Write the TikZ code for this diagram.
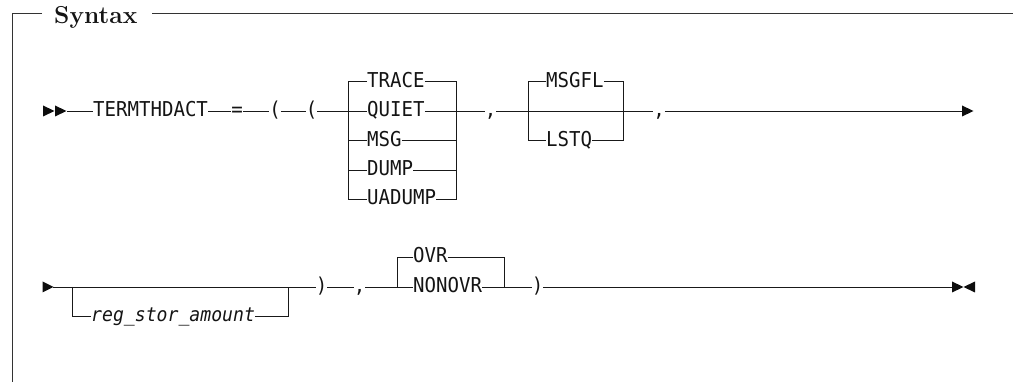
\documentclass[tikz,border=0pt]{standalone}
\usepackage{fontspec}
\newfontfamily\rrmono[FakeStretch=0.93]{DejaVu Sans Mono}
\begin{document}
\begin{tikzpicture}[x=1pt,y=-1pt,
  tok/.style={font=\rrmono\fontsize{20.5}{24}\selectfont, inner sep=0pt, anchor=base west, text=black!92},
  ctok/.style={tok, anchor=base},
  ln/.style={line width=0.85pt, draw=black!90},
  framel/.style={line width=0.9pt, draw=black!80},
  tip/.style={fill=black!95}]
\useasboundingbox (0,0) rectangle (1013,382);
% frame
\node[anchor=base west, inner sep=0pt, font=\fontsize{24.5}{29}\selectfont\bfseries, text=black!92] (syn) at (54,23.5) {Syntax};
\draw[framel] (42,13) -- (12.5,13) -- (12.5,382);
\draw[framel] (152,13) -- (1013,13);
% row coordinates
\coordinate (R1) at (0,111);
\coordinate (RT) at (0,81.5);
\coordinate (RM) at (0,140.5);
\coordinate (RD) at (0,170);
\coordinate (RU) at (0,199);
\coordinate (R2) at (0,287);
\coordinate (RO) at (0,257);
\coordinate (RR) at (0,316);
\coordinate (B1L) at (348,0);
\coordinate (B1R) at (456.5,0);
\coordinate (B2L) at (528,0);
\coordinate (B2R) at (623,0);
\coordinate (B3L) at (72,0);
\coordinate (B3R) at (288,0);
\coordinate (B4L) at (397,0);
\coordinate (B4R) at (504,0);
\coordinate (s1) at (67,111);
\coordinate (e1) at (962,111);
\coordinate (s2) at (53,287);
\coordinate (e2) at (952,287);
% row 1 tokens
\node[tok] (termth) at (93,117) {TERMTHDACT};
\node[ctok] (eq) at (237,117) {=};
\node[ctok] (lp1) at (275,117) {(};
\node[ctok] (lp2) at (311.5,117) {(};
\node[tok] (trace) at (367,87.5) {TRACE};
\node[tok] (quiet) at (367,117) {QUIET};
\node[tok] (msg) at (367,146.5) {MSG};
\node[tok] (dump) at (367,176) {DUMP};
\node[tok] (uadump) at (367,205) {UADUMP};
\node[ctok] (c1) at (490.5,117) {,};
\node[tok] (msgfl) at (546,87.5) {MSGFL};
\node[tok] (lstq) at (546,146.5) {LSTQ};
\node[ctok] (c2) at (659,117) {,};
% row 2 tokens
\node[tok, font=\rrmono\fontsize{19.5}{24}\selectfont\itshape] (reg) at (91,322) {reg\_stor\_amount};
\node[ctok] (rp1) at (321.5,293) {)};
\node[ctok] (c3) at (359.5,293) {,};
\node[tok] (ovr) at (413,263) {OVR};
\node[tok] (nonovr) at (413,293) {NONOVR};
\node[ctok] (rp2) at (537.5,293) {)};
% row 1 connectors
\fill[tip] (43,105.5) -- (54.5,111) -- (43,116.5) -- cycle;
\fill[tip] (55,105.5) -- (66.5,111) -- (55,116.5) -- cycle;
\draw[ln] (s1) -- (termth.west |- R1);
\draw[ln] (termth.east |- R1) -- (eq.west |- R1);
\draw[ln] (eq.east |- R1) -- (lp1.west |- R1);
\draw[ln] (lp1.east |- R1) -- (lp2.west |- R1);
\draw[ln] (lp2.east |- R1) -- (quiet.west |- R1);
\draw[ln] (trace.west |- RT) -| (B1L |- RU) -- (uadump.west |- RU);
\draw[ln] (B1L |- RM) -- (msg.west |- RM);
\draw[ln] (B1L |- RD) -- (dump.west |- RD);
\draw[ln] (trace.east |- RT) -| (B1R |- RU) -- (uadump.east |- RU);
\draw[ln] (msg.east |- RM) -- (B1R |- RM);
\draw[ln] (dump.east |- RD) -- (B1R |- RD);
\draw[ln] (quiet.east |- R1) -- (c1.west |- R1);
\draw[ln] (c1.east |- R1) -- (c2.west |- R1);
\draw[ln] (msgfl.west |- RT) -| (B2L |- RM) -- (lstq.west |- RM);
\draw[ln] (msgfl.east |- RT) -| (B2R |- RM) -- (lstq.east |- RM);
\draw[ln] (c2.east |- R1) -- (e1);
\fill[tip] (962,105.5) -- (973.5,111) -- (962,116.5) -- cycle;
% row 2 connectors
\fill[tip] (42.5,281.5) -- (53.5,287) -- (42.5,292.5) -- cycle;
\draw[ln] (s2) -- (rp1.west |- R2);
\draw[ln] (B3L |- R2) |- (reg.west |- RR);
\draw[ln] (reg.east |- RR) -| (B3R |- R2);
\draw[ln] (rp1.east |- R2) -- (c3.west |- R2);
\draw[ln] (c3.east |- R2) -- (nonovr.west |- R2);
\draw[ln] (ovr.west |- RO) -| (B4L |- R2);
\draw[ln] (ovr.east |- RO) -| (B4R |- R2);
\draw[ln] (nonovr.east |- R2) -- (rp2.west |- R2);
\draw[ln] (rp2.east |- R2) -- (e2);
\fill[tip] (952,281.5) -- (963.5,287) -- (952,292.5) -- cycle;
\fill[tip] (975,281.5) -- (963.5,287) -- (975,292.5) -- cycle;
\end{tikzpicture}
\end{document}
